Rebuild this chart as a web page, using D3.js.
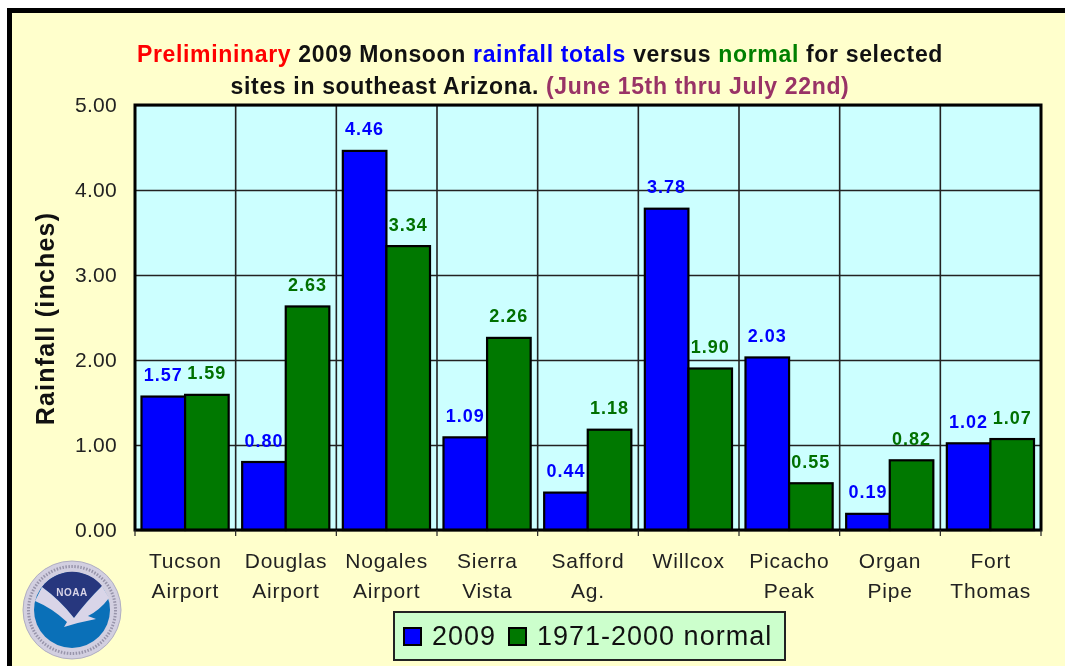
<!DOCTYPE html>
<html>
<head>
<meta charset="utf-8">
<script src="https://cdn.jsdelivr.net/npm/d3@7"></script>
<style>
html, body { margin: 0; padding: 0; background: #fff; overflow: hidden; }
svg { display: block; filter: blur(0.5px); font-family: "Liberation Sans", Arial, sans-serif; }
</style>
</head>
<body>
<script>
var sites = ["Tucson\nAirport", "Douglas\nAirport", "Nogales\nAirport", "Sierra\nVista", "Safford\nAg.", "Willcox", "Picacho\nPeak", "Organ\nPipe", "Fort\nThomas"];
var rain2009 = [1.57, 0.80, 4.46, 1.09, 0.44, 3.78, 2.03, 0.19, 1.02];
var rainNormal = [1.59, 2.63, 3.34, 2.26, 1.18, 1.90, 0.55, 0.82, 1.07];
var seriesNames = ["2009", "1971-2000 normal"];
var seriesColors = ["#0000ff", "#007800"];
var labelColors = ["#0000ff", "#007000"];
var yTicks = [0, 1, 2, 3, 4, 5];
var titleLine1 = [["Prelimininary", "#ff0000"], [" 2009 Monsoon ", "#111"], ["rainfall totals", "#0000ff"], [" versus ", "#111"], ["normal", "#008000"], [" for selected", "#111"]];
var titleLine2 = [["sites in southeast Arizona. ", "#111"], ["(June 15th thru July 22nd)", "#993366"]];

var width = 1065, height = 666;
var plot = {left: 135, right: 1041, top: 105, bottom: 530};

var svg = d3.select("body").append("svg")
    .attr("width", width)
    .attr("height", height);

// page background and thick black frame (top and left only, rest is cropped)
svg.append("rect").attr("width", width).attr("height", height).attr("fill", "#fff");
svg.append("rect").attr("x", 7).attr("y", 8).attr("width", width).attr("height", height).attr("fill", "#000");
svg.append("rect").attr("x", 12).attr("y", 13).attr("width", width).attr("height", height).attr("fill", "#ffffcc");

var x0 = d3.scaleBand().domain(sites).range([plot.left, plot.right]);
var x1 = d3.scaleBand().domain(seriesNames).range([6.5, x0.step() - 7]);
var y = d3.scaleLinear().domain([0, 5]).range([plot.bottom, plot.top]);

svg.append("rect")
    .attr("x", plot.left).attr("y", plot.top)
    .attr("width", plot.right - plot.left).attr("height", plot.bottom - plot.top)
    .attr("fill", "#ccffff");

// horizontal gridlines + y labels
var yAxis = d3.axisLeft(y)
    .tickValues(yTicks)
    .tickFormat(d3.format(".2f"))
    .tickSize(-(plot.right - plot.left))
    .tickPadding(18);
var yG = svg.append("g")
    .attr("transform", "translate(" + plot.left + ",0)")
    .call(yAxis);
yG.select(".domain").remove();
yG.selectAll("line").attr("stroke", "#222").attr("stroke-width", 1.6);
yG.selectAll("text")
    .attr("font-size", 21)
    .attr("letter-spacing", 0.3)
    .attr("fill", "#222")
    .attr("font-family", "Liberation Sans");

// vertical gridlines at category boundaries
svg.append("g").selectAll("line")
    .data(sites.slice(1))
    .enter().append("line")
    .attr("x1", function(d) { return x0(d); })
    .attr("x2", function(d) { return x0(d); })
    .attr("y1", plot.top)
    .attr("y2", plot.bottom)
    .attr("stroke", "#222")
    .attr("stroke-width", 1.6);

// bars
var groups = svg.append("g").selectAll("g")
    .data(sites)
    .enter().append("g")
    .attr("transform", function(d) { return "translate(" + x0(d) + ",0)"; });

var values = [rain2009, rainNormal];
seriesNames.forEach(function(name, s) {
    groups.append("rect")
        .attr("x", x1(name))
        .attr("y", function(d, i) { return y(values[s][i]); })
        .attr("width", x1.bandwidth())
        .attr("height", function(d, i) { return y(0) - y(values[s][i]); })
        .attr("fill", seriesColors[s])
        .attr("stroke", "#000")
        .attr("stroke-width", 2.2);
    groups.append("text")
        .attr("x", x1(name) + x1.bandwidth() / 2)
        .attr("y", function(d, i) { return y(values[s][i]) - 15.5; })
        .attr("text-anchor", "middle")
        .attr("font-size", 18)
        .attr("letter-spacing", 1)
        .attr("font-weight", "bold")
        .attr("fill", labelColors[s])
        .text(function(d, i) { return values[s][i].toFixed(2); });
});

// plot frame
svg.append("rect")
    .attr("x", plot.left).attr("y", plot.top)
    .attr("width", plot.right - plot.left).attr("height", plot.bottom - plot.top)
    .attr("fill", "none")
    .attr("stroke", "#000")
    .attr("stroke-width", 3);

// x axis: outer ticks on boundaries, labels centered
var xAxis = d3.axisBottom(x0).tickSize(0).tickPadding(0);
var xG = svg.append("g")
    .attr("transform", "translate(0," + plot.bottom + ")")
    .call(xAxis);
xG.select(".domain").remove();
xG.selectAll("text").each(function(d) {
    var t = d3.select(this).text("").attr("y", 0).attr("dy", null)
        .attr("font-size", 21).attr("letter-spacing", 0.8)
        .attr("fill", "#222").attr("font-family", "Liberation Sans");
    d.split("\n").forEach(function(part, i) {
        t.append("tspan").attr("x", 0).attr("y", 38 + i * 30).text(part);
    });
});
svg.append("g").selectAll("line")
    .data(sites.concat(["end"]))
    .enter().append("line")
    .attr("x1", function(d, i) { return plot.left + i * x0.step(); })
    .attr("x2", function(d, i) { return plot.left + i * x0.step(); })
    .attr("y1", plot.bottom)
    .attr("y2", plot.bottom + 6)
    .attr("stroke", "#222")
    .attr("stroke-width", 1.2);

// y title
svg.append("text")
    .attr("transform", "translate(54,318.5) rotate(-90)")
    .attr("text-anchor", "middle")
    .attr("font-size", 25)
    .attr("letter-spacing", 1.2)
    .attr("font-weight", "bold")
    .attr("fill", "#111")
    .text("Rainfall (inches)");

// title
function titleLine(parts, yPos) {
    var t = svg.append("text")
        .attr("x", 540).attr("y", yPos)
        .attr("text-anchor", "middle")
        .attr("font-size", 23)
        .attr("letter-spacing", 0.66)
        .attr("font-weight", "bold")
        .attr("xml:space", "preserve");
    parts.forEach(function(p) {
        t.append("tspan").attr("fill", p[1]).text(p[0]);
    });
}
titleLine(titleLine1, 62);
titleLine(titleLine2, 94);

// legend
var legend = svg.append("g");
legend.append("rect")
    .attr("x", 394).attr("y", 612).attr("width", 391).attr("height", 48)
    .attr("fill", "#ccffcc").attr("stroke", "#222").attr("stroke-width", 2);
var legendX = [404, 509];
seriesNames.forEach(function(name, s) {
    legend.append("rect")
        .attr("x", legendX[s]).attr("y", 628)
        .attr("width", 17).attr("height", 17)
        .attr("fill", seriesColors[s]).attr("stroke", "#000").attr("stroke-width", 2);
    legend.append("text")
        .attr("x", legendX[s] + 28).attr("y", 645)
        .attr("font-size", 27)
        .attr("letter-spacing", 1)
        .attr("fill", "#111")
        .text(name);
});

// NOAA logo
var logo = svg.append("g").attr("transform", "translate(72,610)");
logo.append("circle").attr("r", 49).attr("fill", "#d2cfe0").attr("stroke", "#b0aec2").attr("stroke-width", 1);
logo.append("circle").attr("r", 43.5).attr("fill", "none")
    .attr("stroke", "#6f6d85").attr("stroke-width", 3).attr("stroke-dasharray", "1.5 1.5").attr("opacity", 0.6);
logo.append("circle").attr("r", 38).attr("fill", "#0a70b8");
logo.append("path")
    .attr("d", "M-30,-23 A38,38 0 0 1 30,-24 Q14,-8 2,8 Q-12,-10 -30,-23 Z")
    .attr("fill", "#27377e");
logo.append("path")
    .attr("d", "M-37,-9 L-30,-23 Q-12,-10 2,8 Q14,-8 30,-24 L37,-12 Q28,0 16,6 L24,9 Q8,12 -8,17 L-5,12 Q-20,-2 -37,-9 Z")
    .attr("fill", "#d9d5e8");
logo.append("text")
    .attr("x", 0).attr("y", -14)
    .attr("text-anchor", "middle")
    .attr("font-size", 10)
    .attr("letter-spacing", 0.5)
    .attr("font-weight", "bold")
    .attr("fill", "#d9d5e8")
    .text("NOAA");
</script>
</body>
</html>
